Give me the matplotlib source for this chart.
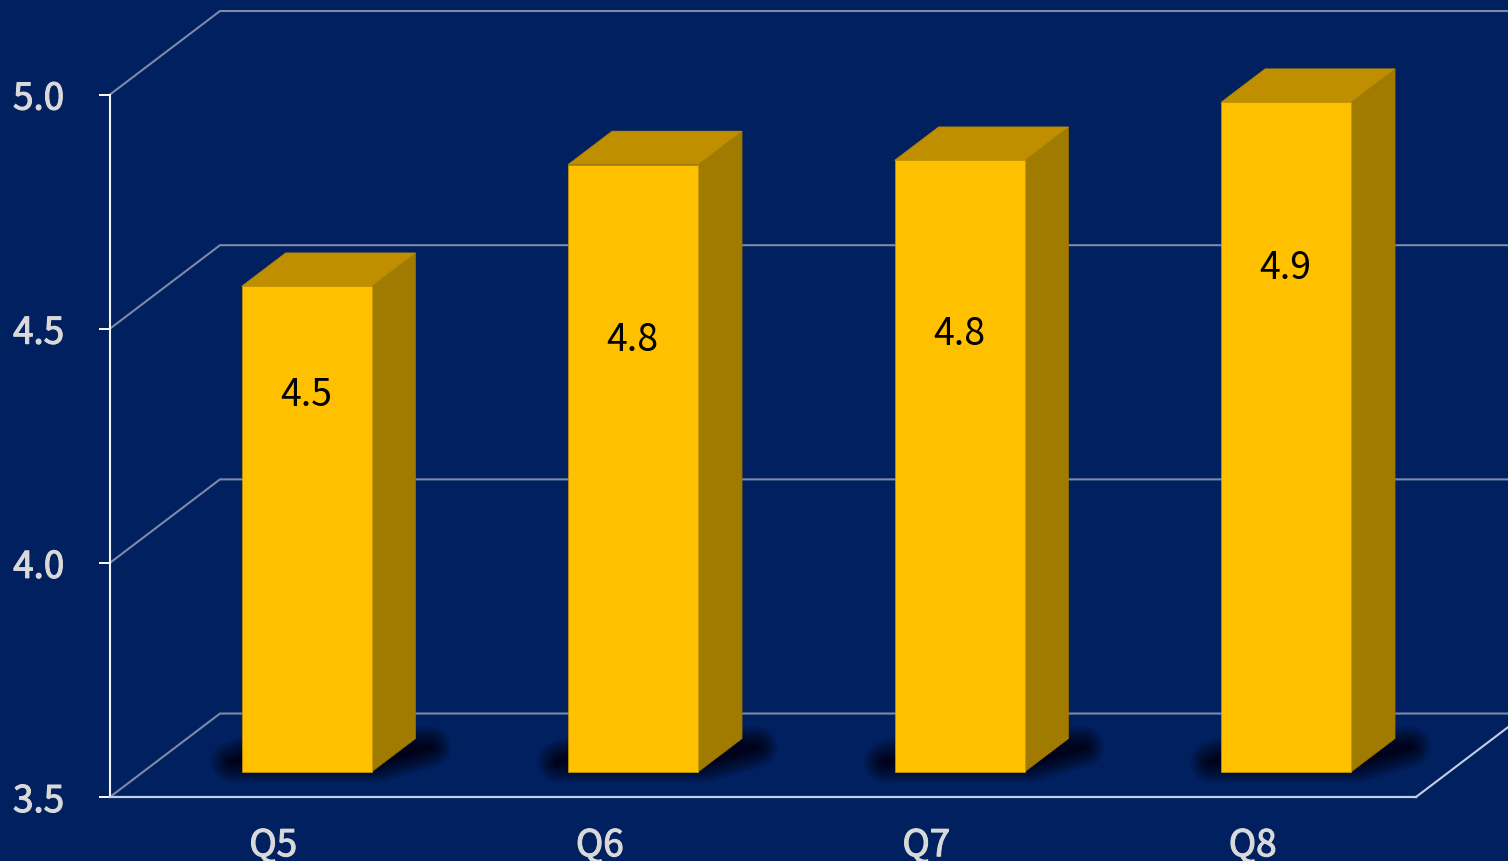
import matplotlib
matplotlib.use("Agg")
import matplotlib.pyplot as plt
import matplotlib.patheffects as pe
from matplotlib.patches import Polygon

categories = ["Q5", "Q6", "Q7", "Q8"]
values = [4.537, 4.797, 4.806, 4.93]
value_labels = ["4.5", "4.8", "4.8", "4.9"]
label_heights = [4.307, 4.423, 4.437, 4.577]
y_ticks = [3.5, 4.0, 4.5, 5.0]

BG = "#002060"
GRID = "#7d89a6"
FONT = ["Noto Sans CJK JP", "DejaVu Sans"]

# oblique projection: how far one full unit of depth moves a point, in data units
DEPTH_X = 110 / 326.5
DEPTH_Y = 83.5 / 468.5
BAR_WIDTH = 0.40


def project(x, y, d):
    return x + d * DEPTH_X, y + d * DEPTH_Y


def main():
    fig = plt.figure(figsize=(15.08, 8.62), dpi=100, facecolor=BG)
    ax = fig.add_axes([110 / 1508, 64 / 862, 1306 / 1508, 702.5 / 862], facecolor=BG)
    ax.patch.set_visible(False)
    ax.set_xlim(0, 4)
    ax.set_ylim(3.5, 5.0)

    # Back wall grid and the left side diagonals
    for tick in y_ticks:
        ax.plot(
            [0, project(0, tick, 1)[0], project(4, tick, 1)[0]],
            [tick, project(0, tick, 1)[1], project(4, tick, 1)[1]],
            color=GRID, lw=1.5, clip_on=False, zorder=1, solid_joinstyle="miter",
        )

    # Floor edge on the right
    fx, fy = project(4, 3.5, 1)
    ax.plot([4, fx], [3.5, fy], color="#c4cfe2", lw=1.5, clip_on=False, zorder=1)

    for i, value in enumerate(values):
        center = i + 0.5
        left = center - BAR_WIDTH / 2
        right = center + BAR_WIDTH / 2

        # Soft floor shadow: stacked strokes of falling width
        shadow = [
            project(left - 0.07, 3.5, 0.42),
            project(right - 0.02, 3.5, 0.42),
            project(right + 0.08, 3.5, 0.60),
            project(left, 3.5, 0.60),
        ]
        for lw in range(30, 0, -1):
            ax.add_patch(Polygon(shadow, closed=True, fill=False, edgecolor="black",
                                 alpha=0.032, lw=lw, joinstyle="round", clip_on=False, zorder=2))

        front = [project(left + 0.002, 3.5, 0.3), project(right, 3.5, 0.3),
                 project(right, value, 0.3), project(left + 0.002, value, 0.3)]
        side = [project(right, 3.5, 0.3), project(right, 3.5, 0.7),
                project(right, value, 0.7), project(right, value, 0.3)]
        top = [project(left + 0.002, value, 0.3), project(right, value, 0.3),
               project(right, value, 0.7), project(left + 0.002, value, 0.7)]
        ax.add_patch(Polygon(side, closed=True, facecolor="#A17B00", edgecolor="#977300",
                             lw=0.5, clip_on=False, zorder=3))
        ax.add_patch(Polygon(top, closed=True, facecolor="#BF8F00", edgecolor="#B58800",
                             lw=0.5, clip_on=False, zorder=3))
        ax.add_patch(Polygon(front, closed=True, facecolor="#FFC000", edgecolor="#C99700",
                             lw=0.5, clip_on=False, zorder=4))

        label_x, label_y = project(center, label_heights[i], 0.3)
        ax.text(label_x, label_y, value_labels[i], ha="center", va="center",
                fontsize=27, color="black", family=FONT, zorder=5)

    ax.set_xticks([i + 0.5 for i in range(len(categories))])
    ax.set_xticklabels(categories)
    ax.set_yticks(y_ticks)
    ax.set_yticklabels([f"{t:.1f}" for t in y_ticks])
    ax.tick_params(axis="x", length=0, pad=21)
    ax.tick_params(axis="y", length=8, width=1.4, color="white", pad=25)
    for label in ax.get_xticklabels() + ax.get_yticklabels():
        label.set_family(FONT)
        label.set_fontsize(26.5)
        label.set_color("#D9D9D9")
        # the reference labels sit between regular and bold
        label.set_path_effects([pe.withStroke(linewidth=0.8, foreground="#D9D9D9")])

    for name in ["top", "right"]:
        ax.spines[name].set_visible(False)
    ax.spines["left"].set_color("#f2f4f8")
    ax.spines["left"].set_linewidth(1.5)
    ax.spines["bottom"].set_color("#c4cfe2")
    ax.spines["bottom"].set_linewidth(1.6)

    fig.savefig("out.png", dpi=100, facecolor=BG)
    plt.close(fig)


if __name__ == "__main__":
    main()
